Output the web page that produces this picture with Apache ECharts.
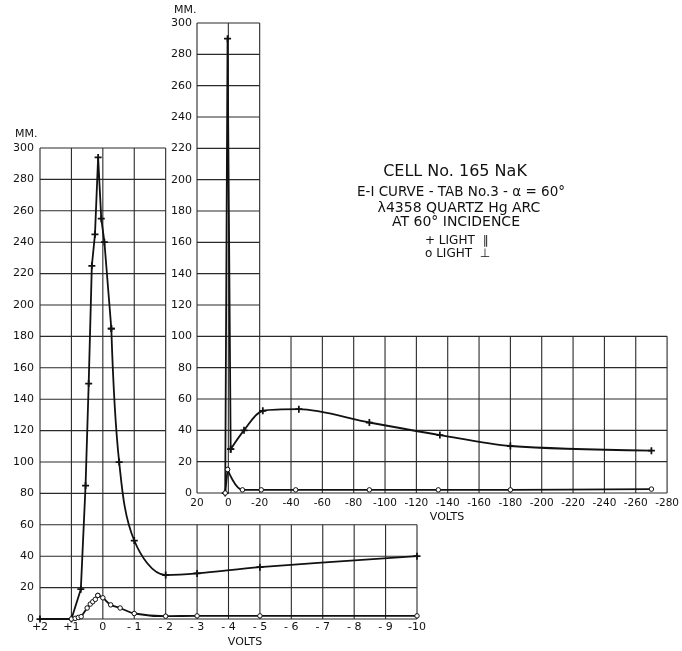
<!DOCTYPE html>
<html>
<head>
<meta charset="utf-8">
<script src="https://cdn.jsdelivr.net/npm/echarts@6/dist/echarts.min.js"></script>
<style>
  html, body { margin: 0; padding: 0; background: #fff; }
  #chart { width: 682px; height: 651px; }
</style>
</head>
<body>
<div id="chart"></div>
<script>
// Low-voltage run (left panel): retarding potential in volts, deflection in mm
const lowVolts    = [2, 1, 0.7, 0.55, 0.45, 0.35, 0.25, 0.15, 0.05, -0.05, -0.27, -0.52, -1, -2, -3, -5, -10];
const lowParallel = [0, 0, 19, 85, 150, 225, 245, 294, 255, 240, 185, 100, 50, 28, 29, 33, 40];
const lowPerpVolts = [1, 0.88, 0.78, 0.69, 0.5, 0.4, 0.32, 0.24, 0.16, 0, -0.25, -0.55, -1, -2, -3, -5, -10];
const lowPerp      = [0, 0.4, 1, 1.5, 7, 9.5, 11, 12.5, 15, 13.5, 9, 7, 3.5, 1.8, 2, 2, 2];

// Full-range run (right panel)
const highVolts    = [2, 0.5, -1.5, -10, -22, -45, -90, -135, -180, -270];
const highParallel = [0, 290, 28, 40, 52.5, 53.5, 45, 37, 30, 27];
const highPerpVolts = [2, 0.5, -9, -21, -43, -90, -134, -180, -270];
const highPerp      = [0, 15, 2, 2, 2, 2, 2, 2, 2.5];

// Tick positions
const lowXTicks  = [2, 1, 0, -1, -2, -3, -4, -5, -6, -7, -8, -9, -10];
const highXTicks = [20, 0, -20, -40, -60, -80, -100, -120, -140, -160, -180, -200, -220, -240, -260, -280];
const mmTicks    = [0, 20, 40, 60, 80, 100, 120, 140, 160, 180, 200, 220, 240, 260, 280, 300];

const FONT = 'DejaVu Sans';
const INK = '#111';
const PLUS = 'path://M3,0h2v3h3v2h-3v3h-2v-3h-3v-2h3z';

const pairs = (xs, ys) => xs.map((x, i) => [x, ys[i]]);

// L-shaped ruling: each panel is tall near zero volts and short elsewhere
const lowGrid = [];
lowXTicks.forEach(x => lowGrid.push([x, 0, x, x >= -2 ? 300 : 60]));
mmTicks.forEach(y => lowGrid.push([2, y, y <= 60 ? -10 : -2, y]));
const highGrid = [];
highXTicks.forEach(x => highGrid.push([x, 0, x, x >= -20 ? 300 : 100]));
mmTicks.forEach(y => highGrid.push([20, y, y <= 100 ? -280 : -20, y]));

function ruling(idx, segs) {
  return {
    type: 'custom', xAxisIndex: idx, yAxisIndex: idx, silent: true, z: 1, clip: false,
    data: segs,
    encode: { x: [0, 2], y: [1, 3] },
    renderItem(params, api) {
      const a = api.coord([api.value(0), api.value(1)]);
      const b = api.coord([api.value(2), api.value(3)]);
      return { type: 'line', shape: { x1: a[0], y1: a[1], x2: b[0], y2: b[1] },
               style: { stroke: '#2a2a2a', lineWidth: 1.1 } };
    }
  };
}

function curve(idx, data, smooth, kind) {
  const plus = kind === 'plus';
  return {
    type: 'line', xAxisIndex: idx, yAxisIndex: idx, data, z: 3,
    smooth: smooth || false,
    symbol: plus ? PLUS : 'circle',
    symbolSize: plus ? 7 : 4.5,
    lineStyle: { color: INK, width: 1.8 },
    itemStyle: plus ? { color: INK } : { color: '#fff', borderColor: INK, borderWidth: 1 },
    clip: false
  };
}

const lowPar = pairs(lowVolts, lowParallel);
const lowPer = pairs(lowPerpVolts, lowPerp);
const highPar = pairs(highVolts, highParallel);
const highPer = pairs(highPerpVolts, highPerp);

const axisText = { fontFamily: FONT, color: INK };

const option = {
  animation: false,
  backgroundColor: '#fff',
  grid: [
    { left: 40, right: 265, top: 148, bottom: 32 },
    { left: 197, right: 14, top: 23, bottom: 158 }
  ],
  xAxis: [
    { gridIndex: 0, type: 'value', min: -10, max: 2, interval: 1, inverse: true,
      axisLine: { show: false }, axisTick: { show: false }, splitLine: { show: false },
      axisLabel: Object.assign({ fontSize: 11, margin: 3,
        formatter: v => v > 0 ? '+' + v : v === 0 ? '0' : (v > -10 ? '- ' + (-v) : '-' + (-v)) }, axisText) },
    { gridIndex: 1, type: 'value', min: -280, max: 20, interval: 20, inverse: true,
      axisLine: { show: false }, axisTick: { show: false }, splitLine: { show: false },
      axisLabel: Object.assign({ fontSize: 10.5, margin: 5,
        formatter: v => v < 0 ? '-' + (-v) : String(v) }, axisText) }
  ],
  yAxis: [
    { gridIndex: 0, type: 'value', min: 0, max: 300, interval: 20,
      axisLine: { show: false }, axisTick: { show: false }, splitLine: { show: false },
      axisLabel: Object.assign({ fontSize: 11, margin: 6 }, axisText) },
    { gridIndex: 1, type: 'value', min: 0, max: 300, interval: 20,
      axisLine: { show: false }, axisTick: { show: false }, splitLine: { show: false },
      axisLabel: Object.assign({ fontSize: 11, margin: 5 }, axisText) }
  ],
  series: [
    ruling(0, lowGrid),
    ruling(1, highGrid),
    curve(0, lowPar.slice(0, 11), false, 'plus'),
    curve(0, lowPar.slice(10), 0.35, 'plus'),
    curve(0, lowPer.slice(0, 9), false, 'circle'),
    curve(0, lowPer.slice(8), 0.35, 'circle'),
    curve(1, highPar.slice(0, 3), false, 'plus'),
    curve(1, highPar.slice(2), 0.3, 'plus'),
    curve(1, highPer.slice(0, 2), false, 'circle'),
    curve(1, highPer.slice(1), 0.35, 'circle')
  ],
  graphic: [
    { type: 'text', left: 15, top: 129, style: { text: 'MM.', font: '11px "DejaVu Sans"', fill: INK } },
    { type: 'text', left: 174, top: 5, style: { text: 'MM.', font: '11px "DejaVu Sans"', fill: INK } },
    { type: 'text', x: 245, y: 642, style: { text: 'VOLTS', font: '11px "DejaVu Sans"', fill: INK, align: 'center', verticalAlign: 'middle' } },
    { type: 'text', x: 447, y: 517, style: { text: 'VOLTS', font: '11px "DejaVu Sans"', fill: INK, align: 'center', verticalAlign: 'middle' } },
    { type: 'text', x: 455, y: 172, style: { text: 'CELL No. 165 NaK', font: '16px "DejaVu Sans"', fill: INK, align: 'center', verticalAlign: 'middle' } },
    { type: 'text', x: 461, y: 192, style: { text: 'E-I CURVE - TAB No.3 - α = 60°', font: '13.5px "DejaVu Sans"', fill: INK, align: 'center', verticalAlign: 'middle' } },
    { type: 'text', x: 459, y: 208, style: { text: 'λ4358 QUARTZ Hg ARC', font: '14px "DejaVu Sans"', fill: INK, align: 'center', verticalAlign: 'middle' } },
    { type: 'text', x: 456, y: 222, style: { text: 'AT 60° INCIDENCE', font: '14px "DejaVu Sans"', fill: INK, align: 'center', verticalAlign: 'middle' } },
    { type: 'text', x: 425, y: 241, style: { text: '+ LIGHT  ∥', font: '12px "DejaVu Sans"', fill: INK, align: 'left', verticalAlign: 'middle' } },
    { type: 'text', x: 425, y: 254, style: { text: 'o LIGHT  ⊥', font: '12px "DejaVu Sans"', fill: INK, align: 'left', verticalAlign: 'middle' } }
  ]
};

const chart = echarts.init(document.getElementById('chart'), null, { renderer: 'canvas' });
chart.setOption(option);
</script>
</body>
</html>
